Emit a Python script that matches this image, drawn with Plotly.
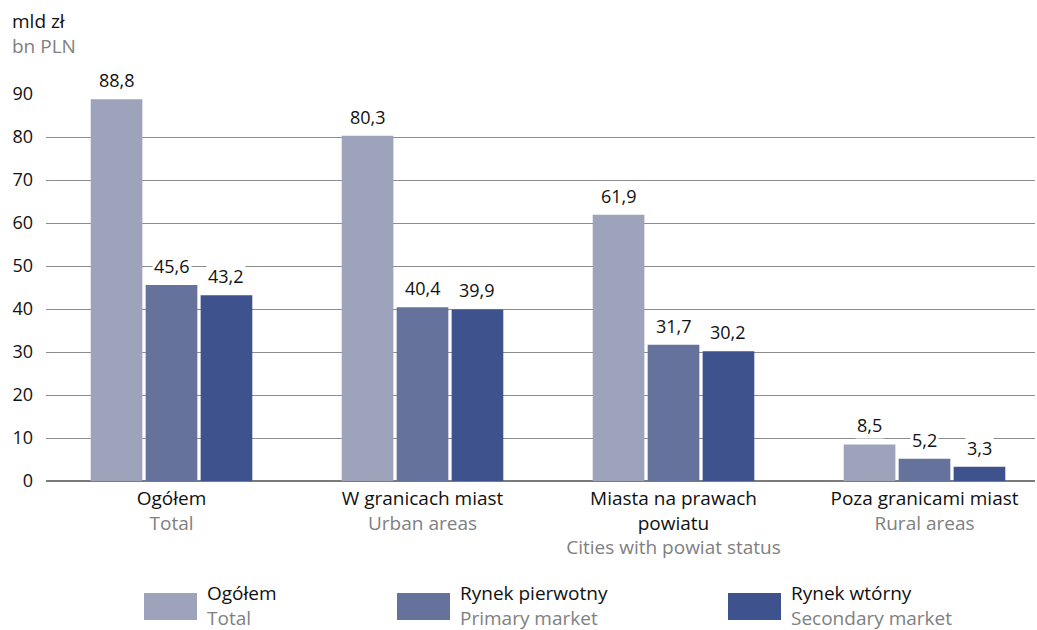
import plotly.graph_objects as go

categories_pl = ["Ogółem", "W granicach miast", "Miasta na prawach<br>powiatu", "Poza granicami miast"]
categories_en = ["Total", "Urban areas", "Cities with powiat status", "Rural areas"]
series_pl = ["Ogółem", "Rynek pierwotny", "Rynek wtórny"]
series_en = ["Total", "Primary market", "Secondary market"]
total_vals = [88.8, 80.3, 61.9, 8.5]
primary_vals = [45.6, 40.4, 31.7, 5.2]
secondary_vals = [43.2, 39.9, 30.2, 3.3]
y_ticks = [0, 10, 20, 30, 40, 50, 60, 70, 80, 90]

colors = ["#9ea3bc", "#65729c", "#3e528e"]
FONT = "Open Sans"
GREY = "#808080"
BLACK = "#111111"

BARGAP = 0.343
GROUPGAP = 0.06

ticktext = [f"{pl}<br><span style='color:{GREY}'>{en}</span>" for pl, en in zip(categories_pl, categories_en)]
xcats = list(range(len(categories_pl)))
all_series = [total_vals, primary_vals, secondary_vals]

fig = go.Figure()
for vals, name, col in zip(all_series, series_pl, colors):
    fig.add_trace(go.Bar(
        x=xcats, y=vals, name=name, marker=dict(color=col, line=dict(width=0)),
        showlegend=False, hoverinfo="x+y",
    ))

# value labels with white background (covering gridlines like the reference)
slot = (1 - BARGAP) / len(all_series)
for si, vals in enumerate(all_series):
    off = (si - (len(all_series) - 1) / 2) * slot
    for ci, v in zip(xcats, vals):
        fig.add_annotation(x=ci + off, y=v, xref="x", yref="y",
                           text=f"{v:.1f}".replace(".", ","), showarrow=False,
                           yanchor="bottom", xanchor="center", yshift=5,
                           bgcolor="white", borderpad=1,
                           font=dict(family=FONT, size=18, color=BLACK))

L, R, T, B = 46, 2, 94, 149
W, H = 1037, 630
PW = W - L - R
PH = H - T - B
fig.update_layout(
    width=W, height=H,
    margin=dict(l=L, r=R, t=T, b=B),
    paper_bgcolor="white", plot_bgcolor="white",
    barmode="group", bargap=BARGAP, bargroupgap=GROUPGAP,
    font=dict(family=FONT, size=18, color=BLACK),
    xaxis=dict(
        tickmode="array", tickvals=xcats, ticktext=ticktext,
        range=[-0.5, -0.5 + PW / 251], showgrid=False, zeroline=False,
        showline=False, ticks="", ticklabelstandoff=4,
        tickfont=dict(family=FONT, size=19, color=BLACK),
    ),
    yaxis=dict(
        range=[0, 90], tickmode="array", tickvals=y_ticks,
        showgrid=True, gridcolor="#8c8c8c", gridwidth=1,
        zeroline=True, zerolinecolor="#7a7a7a", zerolinewidth=2,
        showline=False, ticks="", ticklabelstandoff=12,
        tickfont=dict(family=FONT, size=18, color=BLACK),
    ),
)

def px_x(x): return (x - L) / PW
def px_y(y): return (H - B - y) / PH

# axis unit label (two lines, English in grey)
fig.add_annotation(xref="paper", yref="paper", x=px_x(11), y=px_y(34),
                   text=f"mld zł<br><span style='color:{GREY}'>bn PLN</span>",
                   showarrow=False, xanchor="left", yanchor="middle", align="left", borderpad=0,
                   font=dict(family=FONT, size=19, color=BLACK))

# custom legend
legend_x = [144, 397, 728]
for lx, pl, en, col in zip(legend_x, series_pl, series_en, colors):
    fig.add_shape(type="rect", xref="paper", yref="paper",
                  x0=px_x(lx), x1=px_x(lx + 53), y0=px_y(620), y1=px_y(593),
                  fillcolor=col, line=dict(width=0))
    fig.add_annotation(xref="paper", yref="paper", x=px_x(lx + 62), y=px_y(605),
                       text=f"{pl}<br><span style='color:{GREY}'>{en}</span>",
                       showarrow=False, xanchor="left", yanchor="middle", align="left", borderpad=0,
                       font=dict(family=FONT, size=19, color=BLACK))

fig.write_html("out.html", config={"displayModeBar": False},
               post_script="document.body.style.margin='0';document.body.style.overflow='hidden';")
